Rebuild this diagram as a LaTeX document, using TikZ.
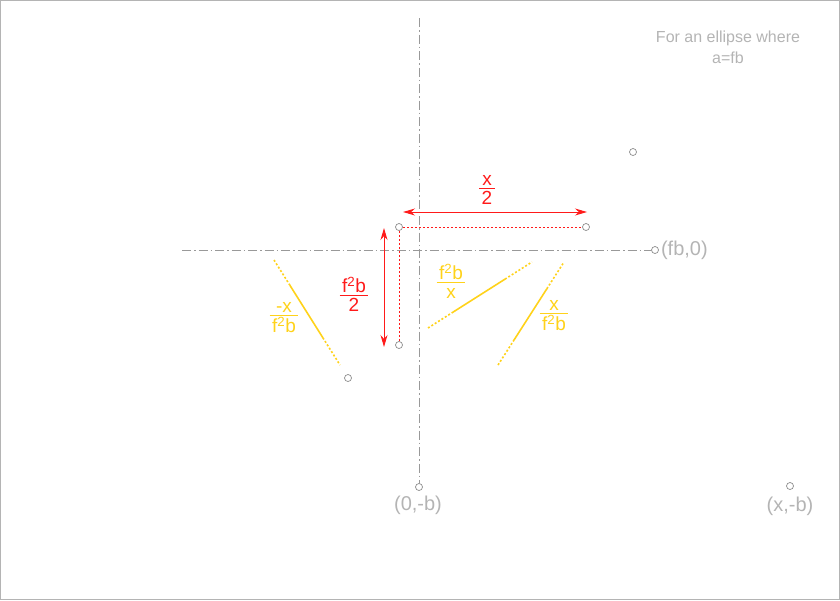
\documentclass[tikz,border=0pt]{standalone}
\usepackage{fontspec}
\setmainfont{Liberation Sans}
\usetikzlibrary{arrows.meta,calc}
\definecolor{axisgray}{HTML}{999999}
\definecolor{ptgray}{HTML}{8C8C8C}
\definecolor{txtgray}{HTML}{B4B4B4}
\definecolor{myred}{HTML}{FF1A1A}
\definecolor{myyellow}{HTML}{FFD21A}
\newcommand{\myfrac}[3]{{\color{#3}\vbox{\halign{\hfil\kern2.5pt##\kern2.5pt\hfil\cr #1\cr\noalign{\kern2pt\hrule height 1.5pt\kern1pt}\rule{0pt}{14pt}#2\cr}}}}
\begin{document}
\begin{tikzpicture}[x=1pt,y=-1pt,
  pt/.style={circle,draw=ptgray,fill=white,line width=0.7pt,minimum size=7pt,inner sep=0pt},
  axis/.style={axisgray,line width=1pt,dash pattern=on 9pt off 3pt on 1.5pt off 3pt},
  reddot/.style={draw=myred,line width=1pt,dash pattern=on 2pt off 2pt},
  redarrow/.style={myred,line width=1pt,{Stealth[length=12pt,width=7pt]}-{Stealth[length=12pt,width=7pt]}},
  ysolid/.style={myyellow,line width=1.6pt},
  ydot/.style={myyellow,line width=1.6pt,dash pattern=on 2pt off 2pt},
  gtext/.style={txtgray,font=\fontsize{20}{24}\selectfont,inner sep=1pt},
  ftext/.style={font=\fontsize{19}{21}\selectfont,inner sep=0pt}]
\useasboundingbox (0,0) rectangle (840,600);
\draw[txtgray,line width=1pt] (0.5,0.5) rectangle (839.5,599.5);

% points
\node[pt] (fb0) at (655,250) {};
\node[pt] (p1) at (633,152) {};
\node[pt] (pa) at (399,227) {};
\node[pt] (pb) at (586,227) {};
\node[pt] (pc) at (399,345) {};
\node[pt] (pd) at (348,378) {};
\node[pt] (p0b) at (419,487) {};
\node[pt] (pxb) at (790,486) {};

% axes
\coordinate (vtop) at (419,18);
\coordinate (hleft) at (182,250);
\draw[axis] (vtop) -- (p0b);
\draw[axis] (hleft) -- (fb0);

% red dotted
\draw[reddot] (pa) -- (pb);
\draw[reddot] (pa) -- (pc);

% red arrows
\coordinate (ha1) at (403,212);
\coordinate (ha2) at (587,212);
\draw[redarrow] (ha1) -- (ha2);
\coordinate (va1) at (384,228);
\coordinate (va2) at (384,347);
\draw[redarrow] (va1) -- (va2);

% yellow lines
\coordinate (y1a) at (274,260); \coordinate (y1b) at (340,365);
\coordinate (y2a) at (428,328); \coordinate (y2b) at (532,262);
\coordinate (y3a) at (498,365); \coordinate (y3b) at (564,262);
\foreach \a/\b in {y1a/y1b,y2a/y2b,y3a/y3b}{
  \draw[ydot] (\a) -- ($(\a)!0.24!(\b)$);
  \draw[ysolid] ($(\a)!0.24!(\b)$) -- ($(\a)!0.74!(\b)$);
  \draw[ydot] ($(\a)!0.74!(\b)$) -- (\b);
}

% labels
\node[ftext] (lx2) at (487,190) {\myfrac{x}{2}{myred}};
\node[ftext] (lf2b2) at (354,294) {\myfrac{f\textsuperscript{2}b}{2}{myred}};
\node[ftext] (lmx) at (284,318) {\myfrac{-x}{f\textsuperscript{2}b}{myyellow}};
\node[ftext] (lf2bx) at (451,281) {\myfrac{f\textsuperscript{2}b}{x}{myyellow}};
\node[ftext] (lxf2b) at (554,316) {\myfrac{x}{f\textsuperscript{2}b}{myyellow}};

\node[gtext,anchor=west] (tfb0) at ([xshift=1pt]fb0.east) {(fb,0)};
\node[gtext] (t0b) at (418,505) {(0,-b)};
\node[gtext] (txb) at (790,506) {(x,-b)};
\node[txtgray,font=\fontsize{16}{21}\selectfont,align=center] (note) at (728,47) {For an ellipse where\\a=fb};
\end{tikzpicture}
\end{document}
